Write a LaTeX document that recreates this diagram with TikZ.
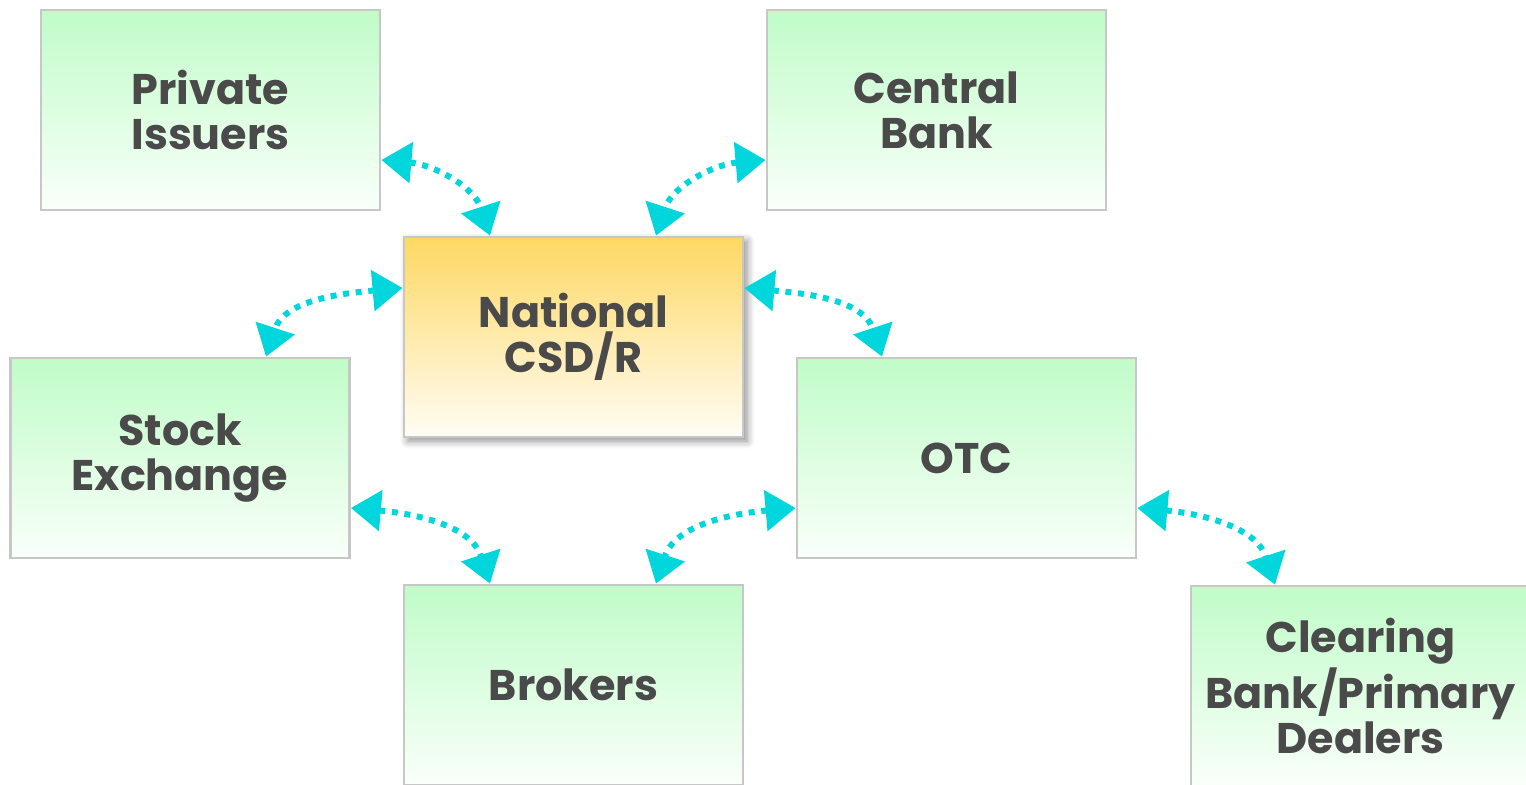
\documentclass[tikz,border=0pt]{standalone}
\usepackage{fontspec}
\setmainfont{Poppins}
\usetikzlibrary{arrows.meta, shadows.blur}
\definecolor{boxgreen}{RGB}{192, 252, 200}
\definecolor{boxgold}{RGB}{254, 216, 98}
\definecolor{flowcyan}{RGB}{0, 214, 220}
\definecolor{labelgray}{RGB}{74, 74, 74}

\begin{document}
\begin{tikzpicture}[
    party/.style={draw=black!22, line width=0.8pt, top color=boxgreen, bottom color=green!2!white,
        minimum width=3.39cm, minimum height=2cm, align=center, text=labelgray,
        font=\fontsize{12.2}{12.8}\selectfont\bfseries},
    hub/.style={party, top color=boxgold, bottom color=boxgold!6!white,
        blur shadow={shadow xshift=0.4mm, shadow yshift=-0.4mm, shadow blur steps=6, shadow opacity=45}},
    flow/.style={<->, flowcyan, line width=1.7pt, dash pattern=on 1.7pt off 1.9pt,
        >={Triangle[length=3mm, width=4mm]}}
  ]
    % Canvas
    \clip (0,0) rectangle (15.26,-7.85);

    % Participants
    \node[party] (pi) at (2.105,-1.10) {Private\\Issuers};
    \node[party] (cb) at (9.365,-1.10) {Central\\Bank};
    \node[hub]   (csd) at (5.735,-3.37) {National\\CSD/R};
    \node[party] (se) at (1.80,-4.58) {Stock\\Exchange};
    \node[party] (otc) at (9.665,-4.58) {OTC};
    \node[party] (br) at (5.735,-6.85) {Brokers};
    \node[party] (cl) at (13.605,-6.86) {Clearing\\Bank/Primary\\Dealers};

    % Two-way links, side of one box to top of the next
    \foreach \from/\fs/\to/\ts/\oa/\ia in {
        pi.east/-5mm/csd.north/-8.35mm/-5/108,
        cb.west/-5mm/csd.north/8.25mm/185/72,
        csd.west/4.9mm/se.north/8.6mm/185/72,
        csd.east/4.9mm/otc.north/-8.45mm/-5/108,
        se.east/-5mm/br.north/-8.35mm/-5/108,
        otc.west/-5mm/br.north/8.25mm/185/72,
        otc.east/-5mm/cl.north/-8.55mm/-5/108}
        \draw[flow] ([yshift=\fs]\from) to[out=\oa, in=\ia] ([xshift=\ts]\to);
\end{tikzpicture}
\end{document}
